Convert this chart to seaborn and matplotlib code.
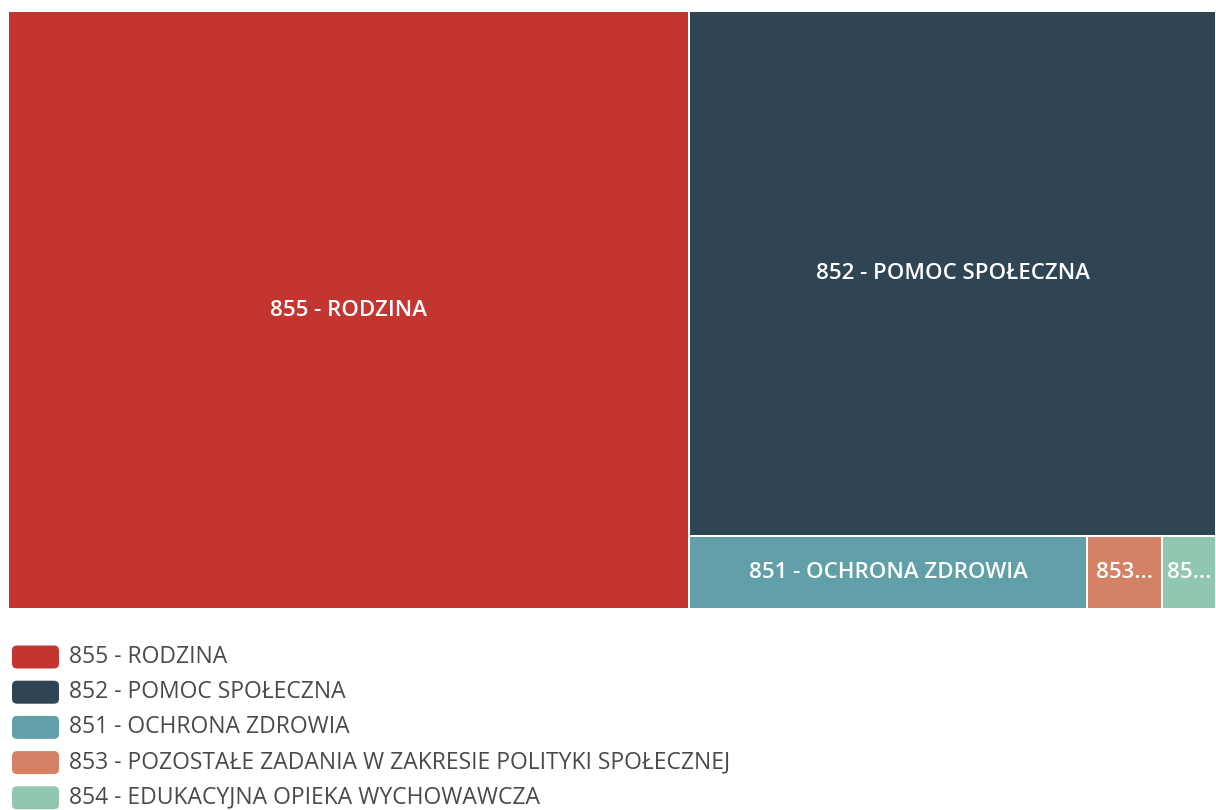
import matplotlib.pyplot as plt
import seaborn as sns
from matplotlib.patches import Rectangle, FancyBboxPatch

# Data (share of total area, %)
labels = [
    "855 - RODZINA",
    "852 - POMOC SPOŁECZNA",
    "851 - OCHRONA ZDROWIA",
    "853 - POZOSTAŁE ZADANIA W ZAKRESIE POLITYKI SPOŁECZNEJ",
    "854 - EDUKACYJNA OPIEKA WYCHOWAWCZA",
]
values = [56.3, 38.2, 4.0, 0.76, 0.54]
colors = ["#c23531", "#2f4554", "#61a0a8", "#d48265", "#91c7ae"]

sns.set_theme(style="white")
plt.rcParams['font.family'] = ['Open Sans', 'DejaVu Sans']


def worst(row, w):
    s = sum(row)
    return max(max(w * w * r / (s * s), (s * s) / (w * w * r)) for r in row)


def squarify(vals, x, y, dx, dy):
    # simple squarified treemap, returns list of (x, y, w, h)
    total = sum(vals)
    areas = [v * dx * dy / total for v in vals]
    rects = []
    while areas:
        short = min(dx, dy)
        row = [areas[0]]
        i = 1
        while i < len(areas) and worst(row + [areas[i]], short) <= worst(row, short):
            row.append(areas[i])
            i += 1
        areas = areas[i:]
        s = sum(row)
        if dx >= dy:  # column on the left
            cw = s / dy
            yy = y
            for a in row:
                h = a / cw
                rects.append((x, yy, cw, h))
                yy += h
            x += cw
            dx -= cw
        else:  # row on top
            rh = s / dx
            xx = x
            for a in row:
                w = a / rh
                rects.append((xx, y, w, rh))
                xx += w
            y += rh
            dy -= rh
    return rects


fig = plt.figure(figsize=(12.16, 8.10), dpi=100)
ax = fig.add_axes([0, 0, 1, 1])
ax.set_xlim(0, 1216)
ax.set_ylim(810, 0)
ax.axis("off")

rects = squarify(values, 8, 11, 1208, 598)
renderer = fig.canvas.get_renderer()
gap = 1.0
for (x, y, w, h), lab, c in zip(rects, labels, colors):
    ax.add_patch(Rectangle((x + gap, y + gap), w - 2 * gap, h - 2 * gap,
                           facecolor=c, edgecolor="none"))
    t = ax.text(x + w / 2, y + h / 2, lab, ha="center", va="center",
                color="white", fontsize=16, fontweight="semibold")
    # truncate label if it does not fit
    text = lab
    while t.get_window_extent(renderer).width > w - 4 and len(text) > 1:
        text = text[:-1]
        t.set_text(text.rstrip(" -") + "...")

# legend
for i, (lab, c) in enumerate(zip(labels, colors)):
    yc = 657 + i * 35.2
    ax.add_patch(FancyBboxPatch((12, yc - 11.5), 47, 23,
                                boxstyle="round,pad=0,rounding_size=5",
                                facecolor=c, edgecolor="none"))
    ax.text(69, yc, lab, ha="left", va="center", color="#4a4a4a",
            fontsize=16.5)

fig.savefig("out.png", dpi=100)
